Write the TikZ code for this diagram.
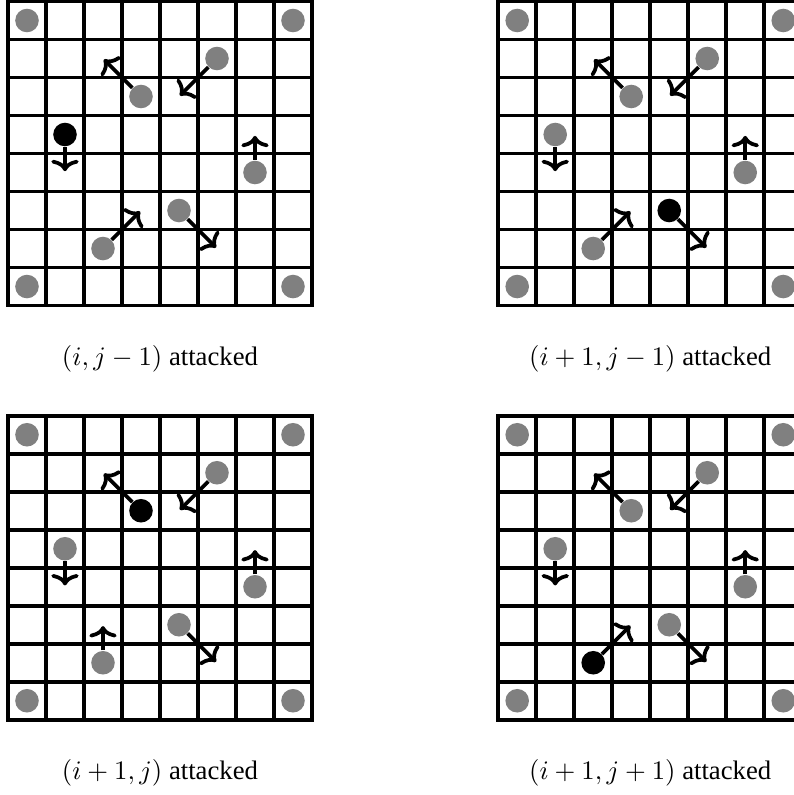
\documentclass[tikz,border=0pt]{standalone}
\usepackage[no-math]{fontspec}
\setmainfont{Liberation Serif}
\usepackage{amsmath}
\usepackage{tikz}
\usetikzlibrary{arrows.meta}
\definecolor{pawn}{HTML}{808080}

\begin{document}
\begin{tikzpicture}[
  x=5mm, y=5mm,
  board/.style={line width=1.35pt},
  piece/.style={circle, fill=pawn, minimum size=3.1mm, inner sep=0pt},
  hit/.style={piece, fill=black},
  move/.style={line width=1.4pt, shorten >=0.5pt,
               -{To[length=1.5mm, width=3.6mm]}},
  caption/.style={inner sep=0pt},
]
\useasboundingbox (-0.21,-12.88) rectangle (20.68,8.04);

% board a: (i,j-1)
\begin{scope}
\draw[board, step=5mm] (0,0) grid (8,8);
\draw[board] (0,0) rectangle (8,8);
\node[piece] (aNW) at (0.5,7.5) {};
\node[piece] (aNE) at (7.5,7.5) {};
\node[piece] (aSW) at (0.5,0.5) {};
\node[piece] (aSE) at (7.5,0.5) {};
\node[piece] (a1) at (3.5,5.5) {};
\node[piece] (a2) at (5.5,6.5) {};
\node[hit]   (a3) at (1.5,4.5) {};
\node[piece] (a4) at (6.5,3.5) {};
\node[piece] (a5) at (4.5,2.5) {};
\node[piece] (a6) at (2.5,1.5) {};
\coordinate (a1t) at (2.5,6.5);
\coordinate (a2t) at (4.5,5.5);
\coordinate (a3t) at (1.5,3.5);
\coordinate (a4t) at (6.5,4.5);
\coordinate (a5t) at (5.5,1.5);
\coordinate (a6t) at (3.5,2.5);
\draw[move] (a1) -- (a1t);
\draw[move] (a2) -- (a2t);
\draw[move] (a3) -- (a3t);
\draw[move] (a4) -- (a4t);
\draw[move] (a5) -- (a5t);
\draw[move] (a6) -- (a6t);
\node[caption] (acap) at (4,-1.4) {$(i,j-1)$ attacked};
\end{scope}

% board b: (i+1,j-1)
\begin{scope}[shift={(12.9,0)}]
\draw[board, step=5mm] (0,0) grid (8,8);
\draw[board] (0,0) rectangle (8,8);
\node[piece] (bNW) at (0.5,7.5) {};
\node[piece] (bNE) at (7.5,7.5) {};
\node[piece] (bSW) at (0.5,0.5) {};
\node[piece] (bSE) at (7.5,0.5) {};
\node[piece] (b1) at (3.5,5.5) {};
\node[piece] (b2) at (5.5,6.5) {};
\node[piece] (b3) at (1.5,4.5) {};
\node[piece] (b4) at (6.5,3.5) {};
\node[hit]   (b5) at (4.5,2.5) {};
\node[piece] (b6) at (2.5,1.5) {};
\coordinate (b1t) at (2.5,6.5);
\coordinate (b2t) at (4.5,5.5);
\coordinate (b3t) at (1.5,3.5);
\coordinate (b4t) at (6.5,4.5);
\coordinate (b5t) at (5.5,1.5);
\coordinate (b6t) at (3.5,2.5);
\draw[move] (b1) -- (b1t);
\draw[move] (b2) -- (b2t);
\draw[move] (b3) -- (b3t);
\draw[move] (b4) -- (b4t);
\draw[move] (b5) -- (b5t);
\draw[move] (b6) -- (b6t);
\node[caption] (bcap) at (4,-1.4) {$(i+1,j-1)$ attacked};
\end{scope}

% board c: (i+1,j)
\begin{scope}[shift={(0,-10.9)}]
\draw[board, step=5mm] (0,0) grid (8,8);
\draw[board] (0,0) rectangle (8,8);
\node[piece] (cNW) at (0.5,7.5) {};
\node[piece] (cNE) at (7.5,7.5) {};
\node[piece] (cSW) at (0.5,0.5) {};
\node[piece] (cSE) at (7.5,0.5) {};
\node[hit]   (c1) at (3.5,5.5) {};
\node[piece] (c2) at (5.5,6.5) {};
\node[piece] (c3) at (1.5,4.5) {};
\node[piece] (c4) at (6.5,3.5) {};
\node[piece] (c5) at (4.5,2.5) {};
\node[piece] (c6) at (2.5,1.5) {};
\coordinate (c1t) at (2.5,6.5);
\coordinate (c2t) at (4.5,5.5);
\coordinate (c3t) at (1.5,3.5);
\coordinate (c4t) at (6.5,4.5);
\coordinate (c5t) at (5.5,1.5);
\coordinate (c6t) at (2.5,2.5);
\draw[move] (c1) -- (c1t);
\draw[move] (c2) -- (c2t);
\draw[move] (c3) -- (c3t);
\draw[move] (c4) -- (c4t);
\draw[move] (c5) -- (c5t);
\draw[move] (c6) -- (c6t);
\node[caption] (ccap) at (4,-1.4) {$(i+1,j)$ attacked};
\end{scope}

% board d: (i+1,j+1)
\begin{scope}[shift={(12.9,-10.9)}]
\draw[board, step=5mm] (0,0) grid (8,8);
\draw[board] (0,0) rectangle (8,8);
\node[piece] (dNW) at (0.5,7.5) {};
\node[piece] (dNE) at (7.5,7.5) {};
\node[piece] (dSW) at (0.5,0.5) {};
\node[piece] (dSE) at (7.5,0.5) {};
\node[piece] (d1) at (3.5,5.5) {};
\node[piece] (d2) at (5.5,6.5) {};
\node[piece] (d3) at (1.5,4.5) {};
\node[piece] (d4) at (6.5,3.5) {};
\node[piece] (d5) at (4.5,2.5) {};
\node[hit]   (d6) at (2.5,1.5) {};
\coordinate (d1t) at (2.5,6.5);
\coordinate (d2t) at (4.5,5.5);
\coordinate (d3t) at (1.5,3.5);
\coordinate (d4t) at (6.5,4.5);
\coordinate (d5t) at (5.5,1.5);
\coordinate (d6t) at (3.5,2.5);
\draw[move] (d1) -- (d1t);
\draw[move] (d2) -- (d2t);
\draw[move] (d3) -- (d3t);
\draw[move] (d4) -- (d4t);
\draw[move] (d5) -- (d5t);
\draw[move] (d6) -- (d6t);
\node[caption] (dcap) at (4,-1.4) {$(i+1,j+1)$ attacked};
\end{scope}

\end{tikzpicture}
\end{document}
